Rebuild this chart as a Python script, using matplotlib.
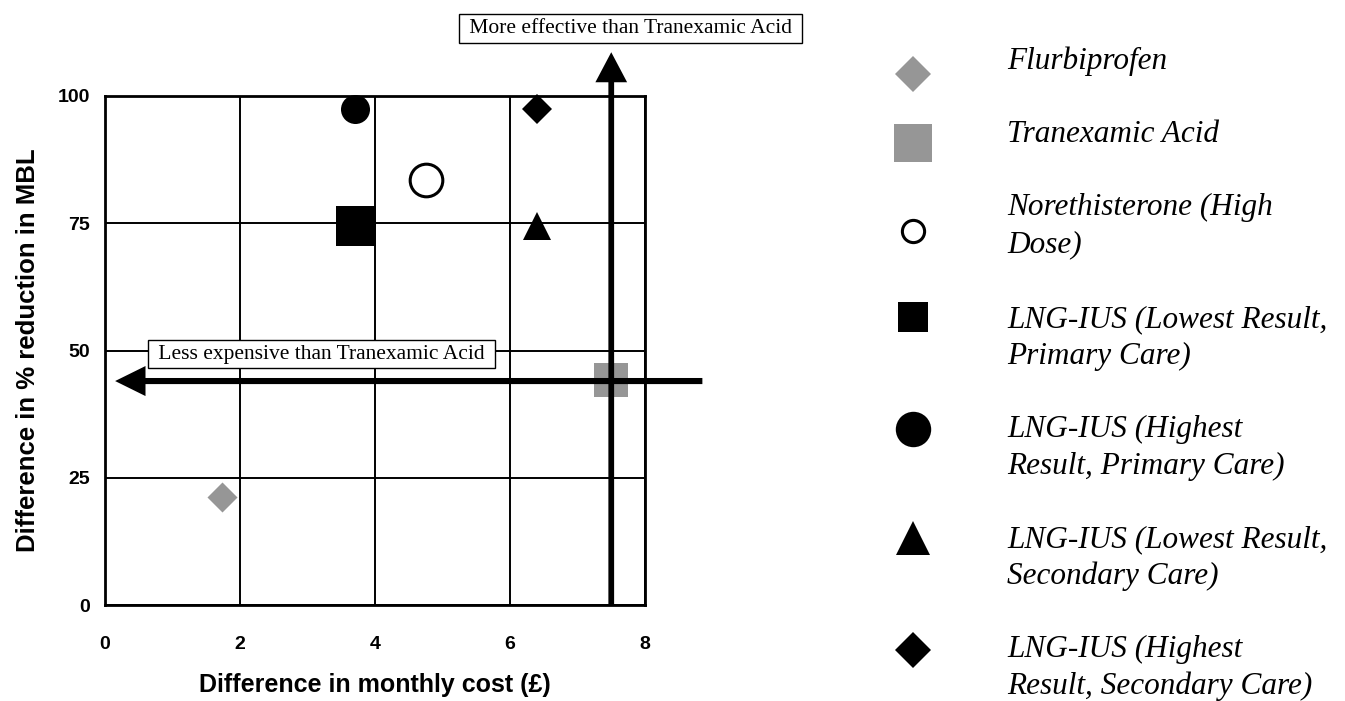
import matplotlib
matplotlib.use("Agg")
import matplotlib.pyplot as plt
from matplotlib.patches import FancyArrow

# ---------------- data ----------------
treatments = [
    "Flurbiprofen",
    "Tranexamic Acid",
    "Norethisterone (High\nDose)",
    "LNG-IUS (Lowest Result,\nPrimary Care)",
    "LNG-IUS (Highest\nResult, Primary Care)",
    "LNG-IUS (Lowest Result,\nSecondary Care)",
    "LNG-IUS (Highest\nResult, Secondary Care)",
]
cost_diff = [1.73, 7.50, 4.76, 3.72, 3.70, 6.40, 6.40]      # difference in monthly cost (GBP)
mbl_diff = [21.2, 44.2, 83.5, 74.4, 97.4, 74.4, 97.4]       # difference in % reduction in MBL

x_ticks = [0, 2, 4, 6, 8]
y_ticks = [0, 25, 50, 75, 100]
reference_cost = 7.5      # tranexamic acid reference lines
reference_mbl = 44.0

# ---------------- styles ----------------
GREY = "#969696"
markers = ["D", "s", "o", "s", "o", "^", "D"]
faces = [GREY, GREY, "white", "black", "black", "black", "black"]
edges = ["white", GREY, "black", "black", "black", "black", "black"]
edge_w = [1.0, 0, 2.2, 0, 0, 0, 0]
plot_sizes = [16.5, 24.5, 23.5, 28.8, 20.9, 20.5, 14.8]
legend_sizes = [18.3, 27.4, 16.0, 21.6, 25.5, 24.5, 18.0]

W, H = 1345, 701
fig = plt.figure(figsize=(W / 100, H / 100), dpi=100)
ax = fig.add_axes([105 / W, 1 - 605 / H, 540 / W, 509 / H])

ax.set_xlim(0, 8)
ax.set_ylim(0, 100)
ax.set_xticks(x_ticks)
ax.set_yticks(y_ticks)
ax.grid(True, color="black", linewidth=1.4, zorder=1)
ax.set_axisbelow(True)
for s in ax.spines.values():
    s.set_linewidth(2.0)
    s.set_color("black")
    s.set_zorder(2)

sans_bold = dict(family="Liberation Sans", weight="bold")
ax.tick_params(axis="x", length=0, pad=22)
ax.tick_params(axis="y", length=0, pad=11)
for lab in ax.get_xticklabels() + ax.get_yticklabels():
    lab.set_fontfamily("Liberation Sans")
    lab.set_fontweight("bold")
    lab.set_fontsize(14)

ax.set_xlabel("Difference in monthly cost (£)", fontsize=18, **sans_bold)
ax.xaxis.set_label_coords(0.5, -0.134)
ax.set_ylabel("Difference in % reduction in MBL", fontsize=18.5, **sans_bold)
ax.yaxis.set_label_coords(-0.121, 0.5)

for i in range(len(treatments)):
    ax.plot(cost_diff[i], mbl_diff[i], linestyle="none", marker=markers[i],
            markersize=plot_sizes[i], markerfacecolor=faces[i],
            markeredgecolor=edges[i], markeredgewidth=edge_w[i],
            zorder=3, clip_on=False)

# reference arrows
varrow = FancyArrow(reference_cost, 0, 0, 108.6, width=0.085, head_width=0.47,
                    head_length=5.9, length_includes_head=True,
                    color="black", lw=0, zorder=4, clip_on=False)
harrow = FancyArrow(8.85, reference_mbl, 0.15 - 8.85, 0, width=1.2, head_width=5.9,
                    head_length=0.45, length_includes_head=True,
                    color="black", lw=0, zorder=4, clip_on=False)
ax.add_patch(varrow)
ax.add_patch(harrow)

box = dict(boxstyle="square,pad=0.22", facecolor="white", edgecolor="black", linewidth=1.0)
ax.text(7.79, 113.3, " More effective than Tranexamic Acid ", ha="center", va="center",
        fontsize=15.5, family="Liberation Serif", bbox=box, zorder=5, clip_on=False)
ax.text(3.21, 49.3, " Less expensive than Tranexamic Acid ", ha="center", va="center",
        fontsize=15.5, family="Liberation Serif", bbox=box, zorder=5, clip_on=False)

# ---------------- legend (manual, right side) ----------------
lax = fig.add_axes([850 / W, 0, 495 / W, 1])
lax.set_xlim(850, 1345)
lax.set_ylim(H, 0)
lax.axis("off")
key_x, text_x = 913, 1007
key_y = [74, 143, 231, 317, 429, 538, 650]
base_y = [69, 142, 215, 327, 437, 547, 657]
line_gap = 37
for i, name in enumerate(treatments):
    lax.plot(key_x, key_y[i], linestyle="none", marker=markers[i],
             markersize=legend_sizes[i], markerfacecolor=faces[i],
             markeredgecolor=edges[i] if edges[i] != "white" else faces[i],
             markeredgewidth=edge_w[i] if faces[i] == "white" else 0)
    for j, line in enumerate(name.split("\n")):
        lax.text(text_x, base_y[i] + j * line_gap, line, ha="left", va="baseline",
                 fontsize=22.5, family="Liberation Serif", style="italic")

fig.savefig("out.png", dpi=100)
